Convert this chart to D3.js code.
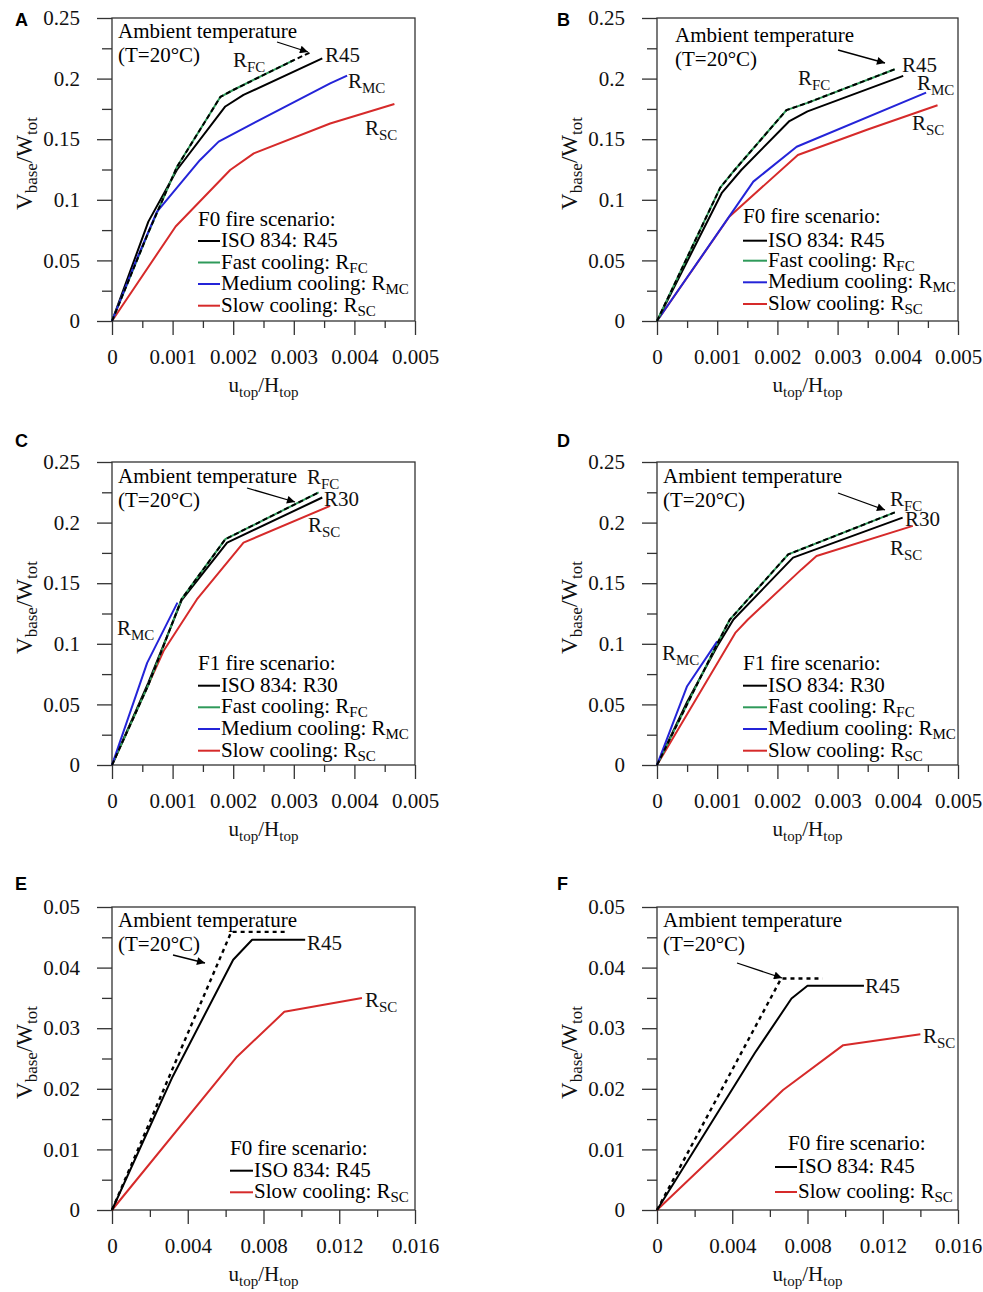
<!DOCTYPE html>
<html>
<head>
<meta charset="utf-8">
<script src="https://cdn.jsdelivr.net/npm/d3@7"></script>
<style>
  body { margin: 0; background: #fff; }
</style>
</head>
<body>
<div id="container"></div>
<script>
// ---- tick values ----
const xTicksSmall = [0, 0.001, 0.002, 0.003, 0.004, 0.005]
const xMinorSmall = [0.0005, 0.0015, 0.0025, 0.0035, 0.0045]
const yTicksSmall = [0, 0.05, 0.1, 0.15, 0.2, 0.25]
const yMinorSmall = [0.025, 0.075, 0.125, 0.175, 0.225]
const xTicksLarge = [0, 0.004, 0.008, 0.012, 0.016]
const xMinorLarge = [0.002, 0.006, 0.01, 0.014]
const yTicksLarge = [0, 0.01, 0.02, 0.03, 0.04, 0.05]
const yMinorLarge = [0.005, 0.015, 0.025, 0.035, 0.045]

// ---- legend texts ----
const legendF0 = ["ISO 834: R45", "Fast cooling: R_{FC}", "Medium cooling: R_{MC}", "Slow cooling: R_{SC}"]
const legendF1 = ["ISO 834: R30", "Fast cooling: R_{FC}", "Medium cooling: R_{MC}", "Slow cooling: R_{SC}"]
const legendF0short = ["ISO 834: R45", "Slow cooling: R_{SC}"]

// ---- curves [u_top/H_top, V_base/W_tot] ----
const A_amb = [[0, 0], [0.0006, 0.073], [0.00107, 0.127], [0.00179, 0.185], [0.002, 0.1906], [0.003, 0.2153], [0.0033, 0.2222]]
const A_R45 = [[0, 0], [0.0006, 0.082], [0.00107, 0.1246], [0.00187, 0.177], [0.00217, 0.1865], [0.00347, 0.2167]]
const A_FC = [[0, 0], [0.0006, 0.073], [0.00107, 0.127], [0.00179, 0.185], [0.002, 0.1906], [0.003, 0.2153]]
const A_MC = [[0, 0], [0.0004, 0.05], [0.00074, 0.09], [0.00145, 0.1327], [0.00176, 0.148], [0.0024, 0.165], [0.0036, 0.196], [0.00388, 0.2024]]
const A_SC = [[0, 0], [0.00105, 0.078], [0.00195, 0.1246], [0.00234, 0.1383], [0.0036, 0.163], [0.00466, 0.179]]

const B_amb = [[0, 0], [0.00105, 0.11], [0.00129, 0.1246], [0.00215, 0.174], [0.0025, 0.18], [0.00395, 0.2077]]
const B_R45 = [[0, 0], [0.00108, 0.106], [0.0014, 0.1246], [0.0022, 0.165], [0.0025, 0.173], [0.00409, 0.2022]]
const B_FC = [[0, 0], [0.00105, 0.11], [0.00129, 0.1246], [0.00215, 0.174], [0.0025, 0.18], [0.00395, 0.2077]]
const B_MC = [[0, 0], [0.0016, 0.115], [0.00232, 0.1438], [0.00447, 0.1884]]
const B_SC = [[0, 0], [0.0012, 0.086], [0.00234, 0.137], [0.0035, 0.158], [0.00466, 0.178]]

const C_amb = [[0, 0], [0.0006, 0.066], [0.00115, 0.137], [0.00187, 0.1863], [0.00341, 0.2249]]
const C_R30 = [[0, 0], [0.0006, 0.068], [0.00115, 0.136], [0.0019, 0.1835], [0.00347, 0.2207]]
const C_FC = [[0, 0], [0.0006, 0.066], [0.00115, 0.137], [0.00187, 0.1863], [0.00341, 0.2249]]
const C_MC = [[0, 0], [0.00058, 0.0843], [0.00108, 0.134]]
const C_SC = [[0, 0], [0.00085, 0.094], [0.0014, 0.1366], [0.00217, 0.1835], [0.0036, 0.2138]]

const D_amb = [[0, 0], [0.0005, 0.05], [0.001, 0.1], [0.00121, 0.12], [0.00218, 0.1738], [0.00395, 0.2084]]
const D_R30 = [[0, 0], [0.0005, 0.052], [0.001, 0.098], [0.00127, 0.12], [0.00226, 0.1711], [0.00408, 0.2041]]
const D_FC = [[0, 0], [0.0005, 0.05], [0.001, 0.1], [0.00121, 0.12], [0.00218, 0.1738], [0.00395, 0.2084]]
const D_MC = [[0, 0], [0.0005, 0.065], [0.001, 0.102]]
const D_SC = [[0, 0], [0.0013, 0.109], [0.00151, 0.12], [0.0024, 0.1614], [0.00265, 0.1724], [0.00425, 0.1973]]

const E_amb = [[0, 0], [0.0063, 0.0459], [0.0092, 0.0459]]
const E_R45 = [[0, 0], [0.0032, 0.022], [0.0064, 0.0413], [0.0074, 0.0446], [0.0102, 0.0446]]
const E_SC = [[0, 0], [0.0066, 0.0253], [0.0091, 0.0327], [0.0132, 0.035]]

const F_amb = [[0, 0], [0.0066, 0.0382], [0.0088, 0.0382]]
const F_R45 = [[0, 0], [0.0052, 0.0259], [0.00715, 0.0349], [0.008, 0.037], [0.011, 0.037]]
const F_SC = [[0, 0], [0.0067, 0.0198], [0.0099, 0.0272], [0.014, 0.029]]

const BLACK = "#000", GREEN = "#2f9a5a", BLUE = "#2424d8", RED = "#d62a2a"
const SERIF = "'Liberation Serif', 'Times New Roman', serif"
const FS = 21

// ---- layout per panel (pixel offsets relative to plot top-left) ----
const panels = [
    {
        letter: "A", left: 112, top: 18, w: 303, letterAt: [-97, 8],
        xMax: 0.005, yMax: 0.25, xT: xTicksSmall, xM: xMinorSmall, yT: yTicksSmall, yM: yMinorSmall,
        curves: [[A_SC, RED], [A_R45, BLACK], [A_FC, GREEN], [A_MC, BLUE]], amb: A_amb, dash: "5,3",
        ambText: [6, 20], arrow: [[165, 24], [196, 34]],
        labels: [["R_{FC}", 121, 48.5], ["R45", 213, 43.5], ["R_{MC}", 236, 70], ["R_{SC}", 253, 117]],
        legTitle: "F0 fire scenario:", legend: legendF0, legColors: [BLACK, GREEN, BLUE, RED],
        legAt: [86, 208], legRows: [229, 250.5, 272, 293.7], legLine: [86, 108], legTextX: 109
    },
    {
        letter: "B", left: 657, top: 18, w: 301, letterAt: [-100, 8],
        xMax: 0.005, yMax: 0.25, xT: xTicksSmall, xM: xMinorSmall, yT: yTicksSmall, yM: yMinorSmall,
        curves: [[B_SC, RED], [B_MC, BLUE], [B_R45, BLACK], [B_FC, GREEN]], amb: B_amb, dash: "5,3",
        ambText: [18, 23.7], arrow: [[181, 32], [228, 45]],
        labels: [["R_{FC}", 141, 67], ["R45", 245, 53.7], ["R_{MC}", 260, 72], ["R_{SC}", 255, 112]],
        legTitle: "F0 fire scenario:", legend: legendF0, legColors: [BLACK, GREEN, BLUE, RED],
        legAt: [86, 205], legRows: [228.7, 248.7, 270.3, 292], legLine: [86, 110], legTextX: 111
    },
    {
        letter: "C", left: 112, top: 462, w: 303, letterAt: [-97, -15.5],
        xMax: 0.005, yMax: 0.25, xT: xTicksSmall, xM: xMinorSmall, yT: yTicksSmall, yM: yMinorSmall,
        curves: [[C_SC, RED], [C_R30, BLACK], [C_FC, GREEN], [C_MC, BLUE]], amb: C_amb, dash: "5,3",
        ambText: [6, 21.3], arrow: [[135, 26], [183, 40]],
        labels: [["R_{FC}", 195, 22], ["R30", 212, 44], ["R_{SC}", 196, 69.7], ["R_{MC}", 5, 173]],
        legTitle: "F1 fire scenario:", legend: legendF1, legColors: [BLACK, GREEN, BLUE, RED],
        legAt: [86, 208], legRows: [229.7, 251.3, 273, 294.7], legLine: [86, 108], legTextX: 109
    },
    {
        letter: "D", left: 657, top: 462, w: 301, letterAt: [-100, -15.5],
        xMax: 0.005, yMax: 0.25, xT: xTicksSmall, xM: xMinorSmall, yT: yTicksSmall, yM: yMinorSmall,
        curves: [[D_SC, RED], [D_R30, BLACK], [D_FC, GREEN], [D_MC, BLUE]], amb: D_amb, dash: "5,3",
        ambText: [6, 21.3], arrow: [[181, 31], [228, 48]],
        labels: [["R_{FC}", 233, 43.5], ["R30", 248, 64], ["R_{SC}", 233, 93], ["R_{MC}", 5, 198]],
        legTitle: "F1 fire scenario:", legend: legendF1, legColors: [BLACK, GREEN, BLUE, RED],
        legAt: [86, 208], legRows: [229.7, 251.3, 273, 294.7], legLine: [86, 110], legTextX: 111
    },
    {
        letter: "E", left: 112, top: 907, w: 303, letterAt: [-97, -17],
        xMax: 0.016, yMax: 0.05, xT: xTicksLarge, xM: xMinorLarge, yT: yTicksLarge, yM: yMinorLarge,
        curves: [[E_SC, RED], [E_R45, BLACK]], amb: E_amb, dash: "4,4",
        ambText: [6, 19.7], arrow: [[61, 48], [93, 56]],
        labels: [["R45", 195, 43], ["R_{SC}", 253, 99.7]],
        legTitle: "F0 fire scenario:", legend: legendF0short, legColors: [BLACK, RED],
        legAt: [118, 248], legRows: [269.7, 291.3], legLine: [118, 141], legTextX: 142
    },
    {
        letter: "F", left: 657, top: 907, w: 301, letterAt: [-100, -17],
        xMax: 0.016, yMax: 0.05, xT: xTicksLarge, xM: xMinorLarge, yT: yTicksLarge, yM: yMinorLarge,
        curves: [[F_SC, RED], [F_R45, BLACK]], amb: F_amb, dash: "4,4",
        ambText: [6, 19.7], arrow: [[80, 56], [125, 71]],
        labels: [["R45", 208, 86], ["R_{SC}", 266, 136]],
        legTitle: "F0 fire scenario:", legend: legendF0short, legColors: [BLACK, RED],
        legAt: [131, 243], legRows: [266, 291], legLine: [118, 140], legTextX: 141
    }
]

const PH = 303

// text with _{sub} parts
function rich(textSel, str, subSize = 15, shift = 5) {
    const parts = str.split(/(_\{[^}]*\})/).filter(s => s.length)
    let down = false
    parts.forEach(s => {
        if (s.startsWith("_{")) {
            textSel.append("tspan").text(s.slice(2, -1)).attr("font-size", subSize).attr("dy", shift)
            down = true
        } else {
            const t = textSel.append("tspan").text(s)
            if (down) { t.attr("dy", -shift); down = false }
        }
    })
    return textSel
}

const svg = d3.select("#container").append("svg")
    .attr("width", 983).attr("height", 1292)
    .attr("font-family", SERIF)

svg.append("defs").append("marker")
    .attr("id", "ah")
    .attr("viewBox", "0 0 10 10")
    .attr("refX", 10).attr("refY", 5)
    .attr("markerWidth", 10).attr("markerHeight", 8)
    .attr("markerUnits", "userSpaceOnUse")
    .attr("orient", "auto")
    .append("path").attr("d", "M0,0L10,5L0,10Z").attr("fill", "#000")

const line = d3.line()

panels.forEach(p => {
    const g = svg.append("g").attr("transform", `translate(${p.left},${p.top})`)
    const x = d3.scaleLinear().domain([0, p.xMax]).range([0, p.w])
    const y = d3.scaleLinear().domain([0, p.yMax]).range([PH, 0])
    line.x(d => x(d[0])).y(d => y(d[1]))

    // axes
    const gx = g.append("g").attr("transform", `translate(0,${PH})`)
        .call(d3.axisBottom(x).tickValues(p.xT).tickSize(14).tickFormat(d => String(d)))
    const gxm = g.append("g").attr("transform", `translate(0,${PH})`)
        .call(d3.axisBottom(x).tickValues(p.xM).tickSize(7).tickFormat(""))
    const gy = g.append("g")
        .call(d3.axisLeft(y).tickValues(p.yT).tickSize(15).tickPadding(17).tickFormat(d => String(d)))
    const gym = g.append("g")
        .call(d3.axisLeft(y).tickValues(p.yM).tickSize(10).tickFormat(""))
    ;[gx, gxm, gy, gym].forEach(a => {
        a.select(".domain").remove()
        a.attr("color", "#333").attr("font-family", SERIF).attr("font-size", FS)
        a.selectAll("line").attr("stroke-width", 1.3)
    })
    gx.selectAll("text").attr("y", 43).attr("dy", 0).attr("fill", "#111")
    gy.selectAll("text").attr("fill", "#111")

    g.append("rect").attr("width", p.w).attr("height", PH)
        .attr("fill", "none").attr("stroke", "#333").attr("stroke-width", 1.3)

    // axis titles
    rich(g.append("text")
        .attr("x", p.w / 2).attr("y", PH + 71)
        .attr("text-anchor", "middle").attr("font-size", FS).attr("fill", "#111"), "u_{top}/H_{top}")
    rich(g.append("text")
        .attr("transform", `translate(-80,${PH / 2 - 6}) rotate(-90)`)
        .attr("text-anchor", "middle").attr("font-size", 23).attr("fill", "#111"), "V_{base}/W_{tot}", 17, 5)

    // panel letter
    g.append("text").attr("x", p.letterAt[0]).attr("y", p.letterAt[1])
        .attr("font-family", "'Liberation Sans', Arial, sans-serif").attr("font-weight", "bold")
        .attr("font-size", 18).text(p.letter)

    // curves
    p.curves.forEach(([data, color]) => {
        g.append("path").attr("d", line(data))
            .attr("fill", "none").attr("stroke", color).attr("stroke-width", 2)
            .attr("stroke-linejoin", "round")
    })
    g.append("path").attr("d", line(p.amb))
        .attr("fill", "none").attr("stroke", "#000").attr("stroke-width", p.dash === "4,4" ? 2.4 : 2)
        .attr("stroke-dasharray", p.dash)

    // ambient annotation
    g.append("text").attr("x", p.ambText[0]).attr("y", p.ambText[1])
        .attr("font-size", FS).text("Ambient temperature")
    g.append("text").attr("x", p.ambText[0]).attr("y", p.ambText[1] + 24)
        .attr("font-size", FS).text("(T=20°C)")
    g.append("line")
        .attr("x1", p.arrow[0][0]).attr("y1", p.arrow[0][1])
        .attr("x2", p.arrow[1][0]).attr("y2", p.arrow[1][1])
        .attr("stroke", "#000").attr("stroke-width", 1.3)
        .attr("marker-end", "url(#ah)")

    // curve labels
    p.labels.forEach(([t, lx, ly]) => {
        rich(g.append("text").attr("x", lx).attr("y", ly).attr("font-size", FS).attr("fill", "#111"), t)
    })

    // legend
    g.append("text").attr("x", p.legAt[0]).attr("y", p.legAt[1])
        .attr("font-size", FS).text(p.legTitle)
    p.legend.forEach((t, i) => {
        const ry = p.legRows[i]
        g.append("line")
            .attr("x1", p.legLine[0]).attr("x2", p.legLine[1])
            .attr("y1", ry - 6).attr("y2", ry - 6)
            .attr("stroke", p.legColors[i]).attr("stroke-width", 2)
        rich(g.append("text").attr("x", p.legTextX).attr("y", ry).attr("font-size", FS), t, 15, 4)
    })
})
</script>
</body>
</html>
